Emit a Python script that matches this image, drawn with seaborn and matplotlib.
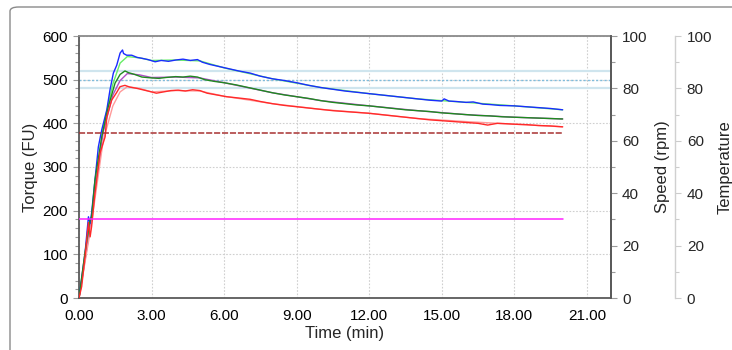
import matplotlib
matplotlib.use("Agg")
import matplotlib.pyplot as plt
import seaborn as sns
from matplotlib.patches import FancyBboxPatch
from matplotlib.ticker import MultipleLocator, FormatStrFormatter

# ---- torque curves (FU) over time (min) ----
blue_t = [0.00, 0.25, 0.39, 0.46, 0.52, 0.66, 0.80, 0.94, 1.15, 1.28, 1.42, 1.56, 1.70, 1.80,
          1.84, 1.97, 2.18, 2.40, 2.60, 2.85, 3.15, 3.40, 3.70, 4.00, 4.30, 4.60, 4.90, 5.10,
          5.40, 5.80, 6.20, 6.60, 7.08, 7.50, 8.00, 8.50, 9.00, 9.50, 10.0, 10.5, 11.0, 11.5,
          12.0, 12.5, 13.0, 13.5, 14.0, 14.5, 15.0, 15.1, 15.3, 15.6, 16.0, 16.3, 16.7, 17.0,
          17.4, 18.0, 18.5, 19.0, 19.5, 20.0]
blue_v = [0, 103, 186, 171, 194, 270, 346, 385, 431, 476, 515, 533, 561, 568,
          560, 556, 556, 551, 549, 546, 541, 544, 542, 545, 547, 544, 546, 540,
          535, 530, 525, 520, 515, 508, 502, 498, 493, 487, 482, 478, 474, 471,
          468, 465, 462, 459, 456, 453, 451, 456, 451, 450, 448, 449, 444, 443,
          441, 440, 438, 436, 434, 431]

green_t = [0.00, 0.25, 0.46, 0.52, 0.66, 0.94, 1.21, 1.49, 1.70, 1.90, 2.05, 2.30, 2.60,
           3.00, 3.30, 3.60, 4.00, 4.30, 4.60, 4.90, 5.20, 5.60, 6.00, 6.50, 7.08, 7.50,
           8.00, 8.50, 9.00, 9.50, 10.0, 10.5, 11.0, 11.5, 12.0, 12.5, 13.0, 13.5, 14.0,
           14.5, 15.0, 15.5, 16.0, 16.5, 17.0, 17.5, 18.0, 18.5, 19.0, 19.5, 20.0]
green_v = [0, 105, 179, 185, 270, 369, 438, 492, 512, 520, 516, 512, 506,
           504, 503, 505, 507, 506, 508, 506, 500, 496, 493, 488, 481, 476,
           470, 465, 461, 457, 452, 448, 445, 442, 440, 437, 434, 431, 429,
           427, 424, 422, 420, 418, 417, 415, 414, 413, 412, 411, 410]

red_t = [0.00, 0.11, 0.25, 0.39, 0.46, 0.52, 0.66, 0.87, 1.08, 1.15, 1.35, 1.55, 1.70, 1.90,
         2.10, 2.40, 2.70, 3.00, 3.20, 3.50, 3.80, 4.10, 4.40, 4.70, 5.00, 5.30, 5.70, 6.10,
         6.60, 7.08, 7.50, 8.00, 8.50, 9.00, 9.50, 10.0, 10.5, 11.0, 11.5, 12.0, 12.5, 13.0,
         13.5, 14.0, 14.5, 15.0, 15.5, 16.0, 16.5, 16.9, 17.3, 17.7, 18.0, 18.5, 19.0, 19.5,
         20.0]
red_v = [0, 26, 95, 173, 140, 163, 240, 332, 369, 415, 453, 470, 484, 487,
         483, 480, 476, 472, 469, 472, 475, 476, 474, 477, 475, 469, 465, 461,
         458, 455, 450, 445, 441, 438, 435, 432, 429, 427, 425, 423, 420, 417,
         414, 411, 408, 406, 404, 402, 400, 396, 400, 399, 398, 397, 395, 394,
         392]

# ---- smoothed companions of each torque curve ----
smooth_t = [0.0, 0.5, 1.0, 1.4, 1.7, 2.0, 2.5, 3.0, 4.0, 5.0, 6.0, 8.0, 10.0, 12.0, 14.0,
            16.0, 18.0, 20.0]
smooth_blue = [0, 180, 390, 490, 538, 553, 550, 544, 545, 543, 527, 502, 482, 468, 456,
               448, 440, 431]
smooth_green = [0, 175, 380, 465, 498, 514, 511, 505, 506, 504, 493, 470, 452, 440, 429,
                420, 414, 410]
smooth_red = [0, 165, 360, 440, 472, 484, 480, 472, 475, 474, 462, 445, 432, 423, 411,
              404, 398, 392]

# ---- set-point lines ----
run_t = [0.0, 20.0]
speed_rpm = [30, 30]
temp_c = [63, 63]
torque_refs = [520, 500, 480]

x_ticks = [0, 3, 6, 9, 12, 15, 18, 21]

sns.set_style("white")
plt.rcParams["font.family"] = ["Liberation Sans", "DejaVu Sans"]
plt.rcParams["font.size"] = 11
plt.rcParams["axes.labelsize"] = 12

fig = plt.figure(figsize=(7.32, 3.5), dpi=100)
ax = fig.add_axes([79 / 732, 1 - 298 / 350, (611 - 79) / 732, (298 - 36) / 350])

# rounded outer frame
frame = FancyBboxPatch((10 / 732, -0.2), 1.2, 1.18, transform=fig.transFigure,
                       boxstyle="round,pad=0,rounding_size=0.012", fill=False,
                       edgecolor="#8a8a8a", linewidth=1.0, clip_on=False)
fig.patches.append(frame)

grid_kw = dict(color="#cfcfcf", linestyle=(0, (1.5, 1.5)), linewidth=0.8)
ax.set_xticks(x_ticks)
ax.xaxis.set_minor_locator(MultipleLocator(1))
ax.yaxis.set_major_locator(MultipleLocator(100))
ax.yaxis.set_minor_locator(MultipleLocator(20))
ax.grid(True, which="major", **grid_kw)
ax.set_axisbelow(True)

# reference torque band
ax.axhline(torque_refs[0], color="#cfe5ee", linewidth=1.6, zorder=1)
ax.axhline(torque_refs[1], color="#7fbcdc", linewidth=1.0, linestyle=(0, (1.5, 1.5)), zorder=1)
ax.axhline(torque_refs[2], color="#cfe5ee", linewidth=1.6, zorder=1)

sns.lineplot(x=smooth_t, y=smooth_blue, ax=ax, color="#66ee66", linewidth=1.0, zorder=2)
sns.lineplot(x=smooth_t, y=smooth_green, ax=ax, color="#b050c8", linewidth=1.0, zorder=2)
sns.lineplot(x=smooth_t, y=smooth_red, ax=ax, color="#ff9a9a", linewidth=1.0, zorder=2)
sns.lineplot(x=blue_t, y=blue_v, ax=ax, color="#1a2cff", linewidth=1.0, zorder=3)
sns.lineplot(x=green_t, y=green_v, ax=ax, color="#1f8a1f", linewidth=1.0, zorder=3)
sns.lineplot(x=red_t, y=red_v, ax=ax, color="#ff2a2a", linewidth=1.0, zorder=3)

ax.set_xlim(0, 22)
ax.set_ylim(0, 600)
ax.xaxis.set_major_formatter(FormatStrFormatter("%.2f"))
ax.set_xlabel("Time (min)", labelpad=2)
ax.set_ylabel("Torque (FU)", labelpad=3)

for name, sp in ax.spines.items():
    sp.set_color("#5a5a5a")
    sp.set_linewidth(1.3)
ax.spines["top"].set_color("#8a8a8a")
ax.tick_params(which="both", direction="out", color="#9a9a9a", labelcolor="black")
ax.tick_params(which="major", length=4, width=0.8, pad=4)
ax.tick_params(which="minor", length=3, width=0.8)

# speed axis
ax2 = ax.twinx()
ax2.set_ylim(0, 100)
ax2.yaxis.set_major_locator(MultipleLocator(20))
ax2.yaxis.set_minor_locator(MultipleLocator(10))
sns.lineplot(x=run_t, y=speed_rpm, ax=ax2, color="#ff22ff", linewidth=1.1)
ax2.set_ylabel("Speed (rpm)", labelpad=5)
for name, sp in ax2.spines.items():
    sp.set_visible(name == "right")
ax2.spines["right"].set_color("#5a5a5a")
ax2.spines["right"].set_linewidth(1.3)
ax2.tick_params(which="both", direction="out", color="#9a9a9a")
ax2.tick_params(which="major", length=4, width=0.8, pad=4)
ax2.tick_params(which="minor", length=3, width=0.8)
ax2.grid(False)

# temperature axis
ax3 = ax.twinx()
ax3.set_ylim(0, 100)
ax3.yaxis.set_major_locator(MultipleLocator(20))
ax3.yaxis.set_minor_locator(MultipleLocator(10))
ax3.spines["right"].set_position(("axes", (675 - 79) / (611 - 79)))
sns.lineplot(x=run_t, y=temp_c, ax=ax3, color="#a83232", linewidth=1.1,
             linestyle=(0, (4, 1.2)))
ax3.set_ylabel("Temperature", labelpad=4)
for name, sp in ax3.spines.items():
    sp.set_visible(name == "right")
ax3.spines["right"].set_color("#d0d0d0")
ax3.spines["right"].set_linewidth(1.0)
ax3.tick_params(which="both", direction="out", color="#cccccc")
ax3.tick_params(which="major", length=4, width=0.8, pad=4.5)
ax3.tick_params(which="minor", length=3, width=0.8)
ax3.grid(False)

fig.savefig("out.png", dpi=100)
